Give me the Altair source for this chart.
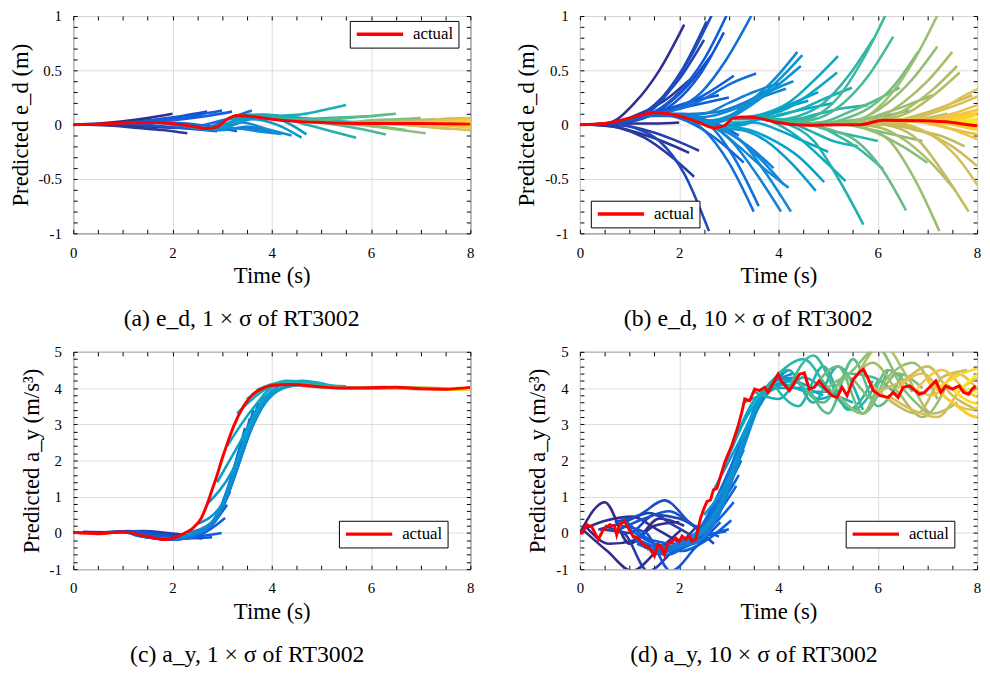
import altair as alt
import pandas as pd

FONT = "Liberation Serif, serif"
PARULA = ["#352a87", "#0f5cdd", "#1481d6", "#06a4ca", "#2eb7a4",
          "#87bf77", "#d1bb59", "#fec832", "#f9fb0e"]
PARULA_STOPS = [0, 1, 2, 3, 4, 5, 6, 7, 8]

# ---------------- (a) e_d, 1 x sigma ----------------
a_act_t = [0, 0.5, 1.0, 1.5, 2.0, 2.4, 2.7, 2.9, 3.1, 3.3, 3.6, 4.0, 4.5, 5.0, 6.0, 7.0, 8.0]
a_act_v = [0, 0.005, 0.015, 0.02, 0.01, -0.015, -0.035, -0.02, 0.05, 0.085, 0.075, 0.05,
           0.03, 0.02, 0.01, 0.01, 0.005]
# each prediction: (start time, values every 0.5 s)
a_lines = [
    (0.0, [0, 0.01, 0.03, 0.06, 0.1]),
    (0.1, [0, 0.0, -0.01, -0.02, -0.03]),
    (0.3, [0, -0.01, -0.03, -0.05, -0.08]),
    (0.4, [0, 0.01, 0.03, 0.05, 0.08]),
    (0.6, [0.005, 0.02, 0.04, 0.06, 0.09]),
    (0.7, [0.005, 0.02, 0.05, 0.08, 0.12]),
    (0.9, [0.01, 0.0, -0.02, -0.04, -0.06]),
    (1.0, [0.01, 0.03, 0.06, 0.09, 0.13]),
    (1.2, [0.015, 0.03, 0.05, 0.08, 0.12]),
    (1.3, [0.02, 0.02, 0.01, -0.02, -0.06]),
    (1.5, [0.02, 0.01, -0.01, 0.04, 0.08]),
    (1.6, [0.02, 0.0, -0.04, 0.05, 0.13]),
    (1.8, [0.015, -0.02, -0.05, 0.04, 0.08]),
    (1.9, [0.01, -0.02, -0.05, -0.03, -0.05]),
    (2.0, [0.01, -0.03, -0.05, -0.02, -0.065]),
    (2.2, [-0.01, -0.04, -0.03, -0.06, -0.086]),
    (2.4, [-0.02, -0.05, 0.02, -0.04, -0.1]),
    (2.6, [-0.035, -0.02, 0.05, 0.0, -0.12]),
    (2.7, [-0.04, 0.0, 0.08, 0.04, -0.09]),
    (2.9, [-0.02, 0.06, 0.09, 0.06, 0.02]),
    (3.1, [0.05, 0.09, 0.08, 0.06, 0.04]),
    (3.3, [0.08, 0.09, 0.07, 0.05, 0.03]),
    (3.5, [0.09, 0.08, 0.09, 0.13, 0.18]),
    (3.7, [0.08, 0.06, 0.0, -0.06, -0.12]),
    (3.9, [0.065, 0.05, 0.04, 0.03, 0.02]),
    (4.1, [0.055, 0.05, 0.06, 0.07, 0.08]),
    (4.3, [0.04, 0.03, 0.0, -0.04, -0.09]),
    (4.5, [0.03, 0.04, 0.06, 0.08, 0.1]),
    (4.7, [0.025, 0.02, 0.0, -0.02, -0.05]),
    (5.0, [0.02, 0.02, 0.04, 0.05, 0.06]),
    (5.1, [0.02, 0.01, -0.02, -0.05, -0.08]),
    (5.3, [0.015, 0.02, 0.03, 0.04, 0.05]),
    (5.6, [0.015, 0.01, 0.0, -0.02, -0.04]),
    (5.9, [0.01, 0.02, 0.03, 0.05, 0.06]),
    (6.2, [0.01, 0.0, -0.02, -0.04, -0.06]),
    (6.5, [0.01, 0.02, 0.04, 0.06, 0.08]),
    (6.8, [0.01, 0.0, -0.02, -0.04]),
    (7.0, [0.01, 0.02, 0.04, 0.06]),
    (7.3, [0.01, 0.0, -0.03]),
    (7.5, [0.005, 0.02, 0.05]),
    (7.7, [0.005, -0.01, -0.04]),
    (7.8, [0.005, 0.02, 0.04]),
]

# ---------------- (b) e_d, 10 x sigma ----------------
b_act_t = [0, 0.5, 1.0, 1.5, 2.0, 2.4, 2.7, 2.9, 3.1, 3.3, 3.6, 3.92, 4.58, 5.2, 5.64,
           6.11, 6.9, 7.5, 7.9, 8.0]
b_act_v = [0, 0.01, 0.06, 0.11, 0.08, 0.02, -0.03, -0.01, 0.06, 0.07, 0.06, 0.025, -0.005,
           0.0, 0.0, 0.04, 0.035, 0.02, -0.005, -0.01]
b_lines = [
    (0.0, [0, 0.0, 0.01, 0.01, 0.02]),
    (0.1, [0, 0.02, 0.2, 0.5, 0.92]),
    (0.2, [0, -0.02, -0.08, -0.16, -0.26]),
    (0.2, [0, 0.02, 0.1, 0.22, 0.41]),
    (0.3, [0, -0.03, -0.12, -0.28, -0.48]),
    (0.4, [0, -0.01, -0.06, -0.14, -0.24]),
    (0.5, [0.01, 0.04, 0.18, 0.42, 0.78]),
    (0.55, [0.01, 0.05, 0.2, 0.5, 0.95]),
    (0.6, [0.01, -0.03, -0.15, -0.45, -0.98]),
    (0.65, [0.01, 0.04, 0.15, 0.35, 0.64]),
    (0.7, [0.02, 0.06, 0.25, 0.6, 1.05]),
    (0.8, [0.03, 0.07, 0.15, 0.22, 0.27]),
    (0.9, [0.04, 0.08, 0.2, 0.45, 0.85]),
    (1.0, [0.05, 0.1, 0.15, 0.2, 0.25]),
    (1.0, [0.05, 0.12, 0.3, 0.6, 1.05]),
    (1.1, [0.06, 0.1, 0.18, 0.3, 0.45]),
    (1.2, [0.07, 0.1, 0.08, 0.02, -0.1]),
    (1.3, [0.08, 0.08, 0.0, -0.15, -0.35]),
    (1.45, [0.1, 0.15, 0.3, 0.6, 1.0]),
    (1.5, [0.1, 0.08, -0.05, -0.35, -0.8]),
    (1.55, [0.1, 0.15, 0.25, 0.38, 0.47]),
    (1.6, [0.1, 0.1, 0.0, -0.3, -0.75]),
    (1.8, [0.09, 0.1, 0.12, 0.2, 0.32]),
    (1.9, [0.09, 0.06, -0.05, -0.2, -0.4]),
    (2.0, [0.08, 0.1, 0.2, 0.3, 0.38]),
    (2.05, [0.08, 0.02, -0.15, -0.45, -0.8]),
    (2.1, [0.07, 0.0, -0.1, -0.3, -0.55]),
    (2.15, [0.06, 0.08, 0.15, 0.25, 0.33]),
    (2.2, [0.05, -0.02, -0.2, -0.4, -0.58]),
    (2.25, [0.04, -0.03, -0.15, -0.45, -0.8]),
    (2.3, [0.03, 0.05, 0.15, 0.3, 0.4]),
    (2.38, [0.02, 0.05, 0.2, 0.4, 0.67]),
    (2.45, [0.01, 0.05, 0.18, 0.35, 0.54]),
    (2.48, [0.0, 0.05, 0.2, 0.4, 0.64]),
    (2.6, [-0.02, 0.0, 0.05, 0.15, 0.22]),
    (2.75, [-0.03, -0.05, -0.15, -0.35, -0.61]),
    (2.8, [-0.02, 0.0, 0.1, 0.2, 0.3]),
    (2.92, [-0.01, -0.05, -0.15, -0.3, -0.53]),
    (3.0, [0.02, 0.02, -0.05, -0.15, -0.25]),
    (3.1, [0.05, 0.05, 0.1, 0.15, 0.2]),
    (3.18, [0.06, 0.08, 0.15, 0.3, 0.48]),
    (3.2, [0.06, 0.1, 0.2, 0.4, 0.63]),
    (3.35, [0.07, 0.03, -0.1, -0.3, -0.52]),
    (3.48, [0.06, 0.08, 0.15, 0.25, 0.34]),
    (3.6, [0.06, 0.04, -0.05, -0.15, -0.2]),
    (3.71, [0.05, 0.0, -0.15, -0.5, -0.92]),
    (3.8, [0.05, 0.05, 0.1, 0.15, 0.18]),
    (3.91, [0.04, 0.08, 0.2, 0.45, 0.79]),
    (4.0, [0.04, 0.02, -0.05, -0.1, -0.15]),
    (4.11, [0.03, 0.02, -0.08, -0.22, -0.41]),
    (4.2, [0.02, 0.07, 0.25, 0.6, 1.05]),
    (4.31, [0.02, 0.06, 0.2, 0.45, 0.81]),
    (4.44, [0.01, 0.03, 0.12, 0.22, 0.34]),
    (4.57, [0.0, -0.05, -0.15, -0.4, -0.79]),
    (4.64, [0.0, 0.02, 0.05, 0.08, 0.13]),
    (4.81, [0.0, 0.05, 0.15, 0.35, 0.67]),
    (4.9, [0.0, 0.0, -0.05, -0.1, -0.15]),
    (5.0, [0.01, -0.01, -0.08, -0.2, -0.35]),
    (5.1, [0.01, 0.03, 0.1, 0.18, 0.27]),
    (5.2, [0.01, 0.06, 0.2, 0.42, 0.72]),
    (5.24, [0.01, -0.03, -0.15, -0.5, -0.98]),
    (5.3, [0.0, 0.08, 0.3, 0.65, 1.1]),
    (5.4, [0.0, 0.0, 0.02, 0.05, 0.1]),
    (5.5, [0.0, 0.06, 0.2, 0.4, 0.67]),
    (5.57, [0.0, -0.03, -0.15, -0.35, -0.61]),
    (5.6, [0.0, 0.05, 0.15, 0.32, 0.54]),
    (5.65, [0.0, 0.04, 0.12, 0.28, 0.48]),
    (5.75, [0.0, 0.0, -0.05, -0.1, -0.2]),
    (5.83, [0.01, -0.02, -0.15, -0.45, -0.8]),
    (5.9, [0.02, 0.04, 0.1, 0.18, 0.27]),
    (6.0, [0.03, 0.0, -0.08, -0.2, -0.38]),
    (6.1, [0.04, 0.0, -0.1, -0.3, -0.62]),
    (6.2, [0.04, 0.06, 0.12, 0.2, 0.3]),
    (6.3, [0.04, 0.06, 0.15, 0.28, 0.39]),
    (6.4, [0.035, 0.02, -0.03, -0.08, -0.12]),
    (6.5, [0.035, 0.05, 0.1, 0.18, 0.26]),
    (6.6, [0.035, 0.01, -0.06, -0.15, -0.23]),
    (6.7, [0.03, 0.05, 0.1, 0.16]),
    (6.8, [0.03, 0.02, -0.02, -0.07]),
    (6.9, [0.03, 0.05, 0.12, 0.22]),
    (7.0, [0.03, 0.0, -0.05, -0.1]),
    (7.1, [0.03, 0.06, 0.12]),
    (7.2, [0.03, 0.0, -0.08]),
    (7.3, [0.025, 0.06, 0.15]),
    (7.4, [0.025, 0.02, 0.02]),
    (7.5, [0.02, 0.05, 0.1]),
    (7.6, [0.015, 0.0, -0.05]),
    (7.7, [0.01, 0.04]),
    (7.8, [0.0, -0.03]),
    (7.9, [-0.005, 0.03]),
]

# ---------------- (c) a_y, 1 x sigma ----------------
c_act_t = [0, 0.5, 1.0, 1.5, 1.85, 2.1, 2.25, 2.4, 2.58, 2.7, 2.8, 2.9, 3.0, 3.1, 3.24,
           3.43, 3.63, 3.8, 4.03, 4.4, 5.0, 5.5, 6.0, 6.5, 7.0, 7.5, 8.0]
c_act_v = [0.02, -0.02, 0.03, -0.1, -0.18, -0.1, 0.0, 0.12, 0.41, 0.8, 1.2, 1.6, 2.05,
           2.45, 2.97, 3.5, 3.84, 3.98, 4.08, 4.1, 4.03, 4.0, 4.01, 4.02, 3.98, 3.97, 4.02]
c_lines = [
    (0.0, [0.02, 0.0, 0.03, 0.01, -0.03]),
    (0.2, [0.03, 0.02, 0.02, -0.04, -0.06]),
    (0.4, [0.0, 0.04, 0.05, 0.0, -0.08]),
    (0.6, [0.0, 0.05, 0.0, -0.1, -0.15]),
    (0.8, [0.02, 0.04, -0.06, -0.15, -0.12]),
    (0.99, [0.03, -0.05, -0.18, -0.1, 0.0]),
    (1.06, [0.02, -0.08, -0.17, -0.05, 0.41]),
    (1.1, [0.0, -0.1, -0.17, 0.0, 0.78]),
    (1.16, [-0.02, -0.12, -0.15, 0.05, 1.14]),
    (1.2, [-0.05, -0.14, -0.14, 0.1, 1.5]),
    (1.26, [-0.07, -0.15, -0.12, 0.2, 1.87]),
    (1.33, [-0.08, -0.17, -0.1, 0.3, 2.24]),
    (1.4, [-0.1, -0.18, -0.08, 0.45, 2.6]),
    (1.46, [-0.11, -0.18, -0.05, 0.6, 2.9]),
    (1.56, [-0.13, -0.17, 0.0, 0.85, 3.17]),
    (1.63, [-0.15, -0.15, 0.05, 1.1, 3.4]),
    (1.73, [-0.17, -0.12, 0.15, 1.5, 3.6]),
    (1.85, [-0.18, -0.08, 0.3, 2.0, 3.85]),
    (2.0, [-0.15, 0.0, 0.7, 2.6, 3.95]),
    (2.15, [-0.1, 0.1, 1.2, 3.1, 4.0]),
    (2.3, [0.0, 0.3, 1.9, 3.5, 4.05]),
    (2.5, [0.25, 0.8, 2.7, 3.8, 4.1]),
    (2.7, [0.8, 1.7, 3.4, 4.0, 4.1]),
    (2.9, [1.4, 2.6, 3.8, 4.15, 4.1]),
    (3.1, [2.4, 3.4, 4.1, 4.2, 4.1]),
    (3.3, [3.3, 3.9, 4.2, 4.15, 4.05]),
    (3.5, [3.7, 4.05, 4.15, 4.08, 4.05]),
    (3.7, [3.95, 4.15, 4.1, 4.03, 4.0]),
    (4.0, [4.08, 4.12, 4.05, 4.02, 4.0]),
    (4.3, [4.1, 4.05, 4.0, 4.02, 4.03]),
    (4.6, [4.06, 4.02, 4.0, 3.98, 4.0]),
    (5.0, [4.03, 4.0, 4.02, 4.01, 3.98]),
    (5.4, [4.0, 4.02, 4.0, 3.97, 4.0]),
    (5.8, [4.01, 4.0, 4.03, 4.0, 3.97]),
    (6.2, [4.02, 4.01, 3.98, 3.97, 4.0]),
    (6.6, [4.0, 3.98, 3.96, 3.98]),
    (7.0, [3.98, 3.96, 3.97]),
    (7.4, [4.0, 3.95]),
    (7.7, [4.01, 3.96]),
]

# ---------------- (d) a_y, 10 x sigma ----------------
d_act_t = [0.0, 0.04, 0.14, 0.24, 0.37, 0.47, 0.6, 0.7, 0.74, 0.8, 0.9, 0.97, 1.07, 1.17,
           1.27, 1.4, 1.5, 1.57, 1.63, 1.7, 1.76, 1.86, 1.93, 2.0, 2.06, 2.13, 2.2, 2.26,
           2.33, 2.43, 2.5, 2.56, 2.63, 2.69, 2.76, 2.82, 2.92, 3.06, 3.19, 3.26, 3.32,
           3.42, 3.52, 3.62, 3.72, 3.79, 3.92, 3.99, 4.05, 4.22, 4.32, 4.42, 4.52, 4.62,
           4.72, 4.82, 4.95, 5.08, 5.18, 5.28, 5.38, 5.51, 5.65, 5.71, 5.81, 5.91, 6.05,
           6.21, 6.31, 6.41, 6.51, 6.64, 6.84, 6.94, 7.17, 7.27, 7.37, 7.5, 7.64, 7.73,
           7.83, 7.9, 7.97]
d_act_v = [0.0, 0.0, 0.23, 0.16, -0.18, 0.09, 0.23, 0.18, -0.05, 0.23, 0.32, 0.14, -0.09,
           -0.14, -0.32, -0.41, -0.64, -0.32, -0.37, -0.6, -0.32, -0.23, -0.14, -0.23,
           -0.09, -0.18, -0.09, -0.23, -0.18, 0.41, 0.68, 0.87, 0.91, 1.19, 1.23, 1.51,
           1.96, 2.42, 2.97, 3.33, 3.7, 3.65, 3.97, 3.93, 4.02, 3.88, 4.2, 4.38, 4.2, 3.93,
           4.15, 4.38, 4.42, 3.97, 4.02, 4.2, 3.97, 3.79, 3.74, 4.02, 3.79, 4.25, 4.47,
           4.52, 4.25, 3.93, 3.79, 3.74, 3.88, 3.74, 4.02, 4.06, 3.83, 3.88, 4.2, 3.88,
           4.06, 3.97, 4.06, 3.88, 3.83, 3.97, 4.06]
d_lines = [
    (0.0, [0.0, 0.85, -0.3, 0.2, 0.3]),
    (0.05, [0.1, 0.35, 0.45, 0.1, -0.3]),
    (0.05, [0.1, -0.5, -1.05, -0.5, 0.1]),
    (0.1, [0.2, -0.3, -0.2, 0.4, 0.2]),
    (0.37, [0.1, 0.0, -1.05, -0.5, 0.2]),
    (0.4, [0.1, 0.3, 0.55, 0.2, -0.2]),
    (0.5, [0.2, 0.0, 0.5, 0.4, 0.0]),
    (0.7, [0.3, 0.5, 0.9, 0.3, -0.3]),
    (0.8, [0.1, 0.4, 0.6, 0.2, -0.1]),
    (0.83, [0.2, 0.0, -1.05, -0.4, 0.3]),
    (0.95, [0.3, -0.2, -0.3, -0.1, 0.05]),
    (1.0, [0.1, -0.3, -0.4, -0.1, 0.1]),
    (1.05, [-0.1, -0.4, -0.5, -0.2, 0.35]),
    (1.1, [-0.2, -0.5, -0.4, 0.1, 0.85]),
    (1.15, [-0.3, -0.5, -0.3, 0.3, 1.3]),
    (1.2, [-0.3, -0.4, -0.2, 0.5, 1.6]),
    (1.25, [-0.3, -0.6, -0.2, 0.7, 2.0]),
    (1.3, [-0.4, -0.5, -0.1, 0.9, 2.3]),
    (1.35, [-0.45, -0.4, 0.0, 1.1, 2.6]),
    (1.4, [-0.5, -0.4, 0.1, 1.4, 3.0]),
    (1.5, [-0.6, -0.3, 0.2, 1.7, 3.2]),
    (1.6, [-0.4, -0.3, 0.3, 2.0, 3.5]),
    (1.7, [-0.55, -0.2, 0.5, 2.4, 3.7]),
    (1.8, [-0.4, -0.3, 0.6, 2.7, 3.9]),
    (1.9, [-0.3, -0.2, 0.8, 3.0, 4.1]),
    (2.0, [-0.2, 0.0, 1.2, 3.4, 4.3]),
    (2.1, [-0.2, 0.2, 1.6, 3.6, 4.4]),
    (2.2, [-0.1, 0.4, 2.0, 3.8, 4.5]),
    (2.3, [-0.2, 0.7, 2.6, 4.0, 4.4]),
    (2.4, [0.0, 1.0, 3.0, 4.2, 4.3]),
    (2.5, [0.5, 1.5, 3.3, 4.3, 4.1]),
    (2.7, [1.2, 2.5, 3.8, 4.2, 4.0]),
    (2.9, [1.8, 3.3, 4.0, 4.0, 3.8]),
    (3.1, [2.5, 3.8, 4.1, 3.9, 3.9]),
    (3.3, [3.6, 3.9, 4.2, 3.7, 4.0]),
    (3.5, [3.9, 3.7, 4.3, 3.9, 3.6]),
    (3.7, [3.9, 4.5, 3.6, 4.6, 3.4]),
    (3.9, [4.1, 3.5, 4.6, 3.4, 4.2]),
    (4.0, [4.4, 4.8, 4.0, 3.4, 4.2]),
    (4.2, [4.0, 4.9, 3.8, 3.3, 4.5]),
    (4.4, [4.2, 3.6, 4.4, 4.3, 3.8]),
    (4.5, [4.4, 3.3, 4.8, 3.5, 4.4]),
    (4.7, [4.0, 4.6, 3.3, 4.5, 3.9]),
    (4.9, [3.9, 4.3, 3.7, 4.4, 4.0]),
    (5.0, [3.8, 4.5, 5.1, 4.0, 3.3]),
    (5.2, [3.8, 3.3, 4.3, 4.7, 3.7]),
    (5.4, [4.0, 4.7, 3.9, 3.2, 4.1]),
    (5.6, [4.4, 5.2, 4.3, 3.3, 3.6]),
    (5.8, [4.2, 3.6, 3.3, 4.3, 4.5]),
    (6.0, [3.9, 4.2, 4.6, 3.8, 3.4]),
    (6.2, [3.8, 3.4, 3.2, 4.0, 4.4]),
    (6.4, [4.0, 4.4, 3.7, 3.4, 4.3]),
    (6.6, [4.1, 3.8, 4.4, 3.9, 3.7]),
    (6.8, [4.0, 4.5, 3.9, 3.6]),
    (7.0, [4.2, 3.6, 3.2, 4.4]),
    (7.2, [4.0, 4.4, 4.6]),
    (7.4, [4.1, 3.6, 3.5]),
    (7.6, [3.9, 4.5]),
    (7.8, [4.0, 3.7]),
]

X_MAJOR = [0, 2, 4, 6, 8]
ED_MAJOR = [-1, -0.5, 0, 0.5, 1]
AY_MAJOR = [-1, 0, 1, 2, 3, 4, 5]

PANEL_W = 402
PANEL_H = 220


def lines_frame(lines):
    rows = []
    for i, (t0, vals) in enumerate(lines):
        for k, v in enumerate(vals):
            rows.append({"id": i, "t0": t0, "t": t0 + 0.5 * k, "v": v})
    return pd.DataFrame(rows)


def panel(lines, act_t, act_v, ydom, ymajor, yminor_step, ytitle, caption,
          leg_x, leg_y, act_interp):
    pred = lines_frame(lines)
    act = pd.DataFrame({"t": act_t, "v": act_v, "series": ["actual"] * len(act_t)})
    xs = alt.Scale(domain=[0, 8], nice=False, zero=False)
    ys = alt.Scale(domain=ydom, nice=False, zero=False)
    x_minor = [round(0.5 * i, 2) for i in range(17)]
    n = int(round((ydom[1] - ydom[0]) / yminor_step))
    y_minor = [round(ydom[0] + yminor_step * i, 3) for i in range(n + 1)]

    lab = dict(labelFlush=False, labelOverlap=False, ticks=False, domain=False,
               grid=True, labelExpr="'' + datum.value", labelPadding=12,
               labelFont=FONT, titleFont=FONT, labelFontSize=15, titleFontSize=23,
               titleFontWeight="normal", labelColor="black", titleColor="black")

    main = alt.Chart(pred).mark_line(strokeWidth=2.6, clip=True,
                                     interpolate="monotone").encode(
        x=alt.X("t:Q", scale=xs,
                axis=alt.Axis(values=X_MAJOR, title="Time (s)", orient="bottom",
                              titlePadding=5, **lab)),
        y=alt.Y("v:Q", scale=ys,
                axis=alt.Axis(values=ymajor, title=ytitle, orient="left",
                              titlePadding=6, **lab)),
        color=alt.Color("t0:Q", scale=alt.Scale(domain=PARULA_STOPS, range=PARULA,
                                                 interpolate="rgb"), legend=None),
        detail="id:N",
    )

    tick_common = dict(labels=False, domain=False, grid=False, ticks=True,
                       tickSize=4, offset=-4, title=None, tickColor="black")

    actual = alt.Chart(act).mark_line(strokeWidth=3, clip=True,
                                      interpolate=act_interp).encode(
        x=alt.X("t:Q", scale=xs,
                axis=alt.Axis(values=x_minor, orient="bottom", **tick_common)),
        y=alt.Y("v:Q", scale=ys,
                axis=alt.Axis(values=y_minor, orient="left", **tick_common)),
        stroke=alt.Stroke("series:N",
                          scale=alt.Scale(domain=["actual"], range=["#ff0000"]),
                          legend=alt.Legend(title=None, orient="none",
                                            legendX=leg_x, legendY=leg_y,
                                            strokeColor="black", fillColor="white",
                                            padding=5, symbolType="stroke",
                                            symbolSize=2200, symbolStrokeWidth=3.5,
                                            clipHeight=17,
                                            labelFont=FONT, labelFontSize=17,
                                            labelColor="black", labelOffset=8)),
    )

    ticks2 = alt.Chart(act).mark_line(opacity=0).encode(
        x=alt.X("t:Q", scale=xs,
                axis=alt.Axis(values=x_minor, orient="top", **tick_common)),
        y=alt.Y("v:Q", scale=ys,
                axis=alt.Axis(values=y_minor, orient="right", **tick_common)),
    )

    return alt.layer(main, actual, ticks2).resolve_axis(
        x="independent", y="independent"
    ).properties(
        width=PANEL_W, height=PANEL_H,
        title=alt.TitleParams(caption, orient="bottom", font=FONT, fontSize=24,
                              fontWeight="normal", color="black", offset=20,
                              anchor="middle", frame="bounds"),
    )


pa = panel(a_lines, a_act_t, a_act_v, [-1, 1], ED_MAJOR, 0.1, "Predicted e_d (m)",
           "(a) e_d, 1 × σ of RT3002", 280, 5, "monotone")
pb = panel(b_lines, b_act_t, b_act_v, [-1, 1], ED_MAJOR, 0.1, "Predicted e_d (m)",
           "(b) e_d, 10 × σ of RT3002", 11, PANEL_H - 33, "monotone")
pc = panel(c_lines, c_act_t, c_act_v, [-1, 5], AY_MAJOR, 0.2, "Predicted a_y (m/s³)",
           "(c) a_y, 1 × σ of RT3002", 269, PANEL_H - 49, "monotone")
pd_ = panel(d_lines, d_act_t, d_act_v, [-1, 5], AY_MAJOR, 0.2, "Predicted a_y (m/s³)",
            "(d) a_y, 10 × σ of RT3002", 269, PANEL_H - 49, "linear")

chart = alt.concat(pa, pb, pc, pd_, columns=2, spacing={"row": 12, "column": 40}).resolve_scale(
    stroke="independent", color="independent"
).resolve_legend(
    stroke="independent", color="independent"
).properties(
    padding={"left": 0, "top": -4, "right": 0, "bottom": 0}
).configure_view(
    stroke="black", strokeWidth=1
).configure_axis(
    labelFont=FONT, titleFont=FONT, labelFontSize=15, titleFontSize=23,
    titleFontWeight="normal", labelColor="black", titleColor="black",
    gridColor="#dcdcdc", gridWidth=1
)

chart.save("out.html", embed_options={"renderer": "svg", "actions": False})
